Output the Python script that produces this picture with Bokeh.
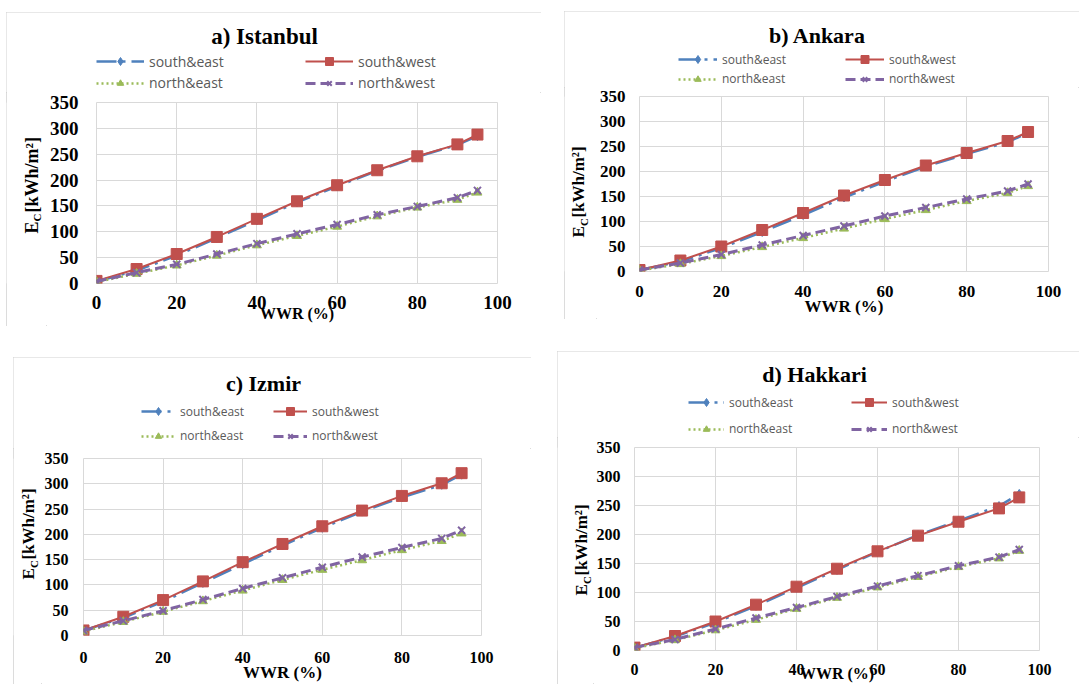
import math
from bokeh.plotting import figure
from bokeh.models import Range1d, FixedTicker, Legend, LegendItem, Label, Spacer
from bokeh.layouts import row, column
from bokeh.embed import file_html
from bokeh.resources import INLINE

# ---------------- data ----------------
wwr = [0, 10, 20, 30, 40, 50, 60, 70, 80, 90, 95]
series_names = ["south&east", "south&west", "north&east", "north&west"]
x_ticks = [0, 20, 40, 60, 80, 100]
y_ticks = [0, 50, 100, 150, 200, 250, 300, 350]
x_label = "WWR (%)"
y_label_parts = ["E", "C", "[kWh/m²]"]

istanbul_se = [4, 25, 54, 88, 122, 157, 188, 218, 245, 268, 285]
istanbul_sw = [5, 28, 57, 90, 125, 159, 190, 219, 246, 269, 288]
istanbul_ne = [3, 19, 35, 54, 74, 92, 110, 130, 147, 162, 176]
istanbul_nw = [4, 21, 37, 57, 77, 96, 114, 133, 149, 166, 180]

ankara_se = [3, 20, 47, 79, 113, 148, 180, 210, 235, 259, 277]
ankara_sw = [3, 22, 50, 83, 117, 152, 183, 212, 237, 261, 279]
ankara_ne = [2, 15, 31, 49, 67, 86, 105, 123, 141, 157, 171]
ankara_nw = [3, 17, 34, 53, 72, 91, 111, 128, 145, 161, 175]

izmir_se = [10, 35, 67, 104, 141, 178, 213, 245, 273, 298, 318]
izmir_sw = [10, 37, 70, 107, 145, 181, 216, 247, 276, 301, 321]
izmir_ne = [8, 27, 47, 68, 89, 110, 130, 149, 169, 187, 202]
izmir_nw = [10, 29, 49, 71, 93, 114, 135, 155, 174, 192, 208]

hakkari_se = [5, 24, 48, 77, 108, 139, 170, 199, 224, 249, 270]
hakkari_sw = [5, 25, 50, 79, 110, 141, 171, 198, 222, 245, 264]
hakkari_ne = [4, 18, 35, 53, 72, 91, 109, 127, 144, 159, 172]
hakkari_nw = [5, 19, 37, 56, 74, 93, 111, 129, 146, 161, 174]

titles = ["a) Istanbul", "b) Ankara", "c) Izmir", "d) Hakkari"]

# ---------------- styles ----------------
series_style = [
    dict(color="#4f81bd", width=2.5, dash="20 6 3 6", marker="diamond", msize=9),
    dict(color="#c0504d", width=2, dash="solid", marker="square", msize=11),
    dict(color="#9bbb59", width=2.5, dash="2 3", marker="triangle", msize=9),
    dict(color="#8064a2", width=3, dash="10 5", marker="x", msize=10),
]

SERIF = "Liberation Serif"
SANS = "Open Sans"
PANEL_BORDER = {"outline": "1px solid #d0d0d0", "outline-offset": "-1px"}

# size=(W,H) of the panel; borders=(left, top, right, bottom) of the plot frame in the panel
panel_cfg = [
    dict(size=(535, 314), borders=(90, 90, 44, 43), hh=80, wl=40,
         title_xy=(258, 56), title_fs=23, rows_y=(31, 8), leg_x=90,
         gw=48, sp=7, lw=149, leg_fs=14,
         tick_fs=19, ystand=12, xstand=6, xlab_fs=16, xlab_stand=-7,
         ylab_x=25, ylab_y=50, ylab_fs=18),
    dict(size=(515, 308), borders=(74, 85, 31, 48), hh=76, wl=32,
         title_xy=(253, 52), title_fs=22, rows_y=(28, 8), leg_x=114,
         gw=39, sp=6, lw=117, leg_fs=12,
         tick_fs=17, ystand=8, xstand=8, xlab_fs=17, xlab_stand=-3,
         ylab_x=14, ylab_y=34, ylab_fs=17),
    dict(size=(518, 327), borders=(69, 101, 50, 49), hh=91, wl=28,
         title_xy=(250, 65), title_fs=22, rows_y=(37, 12), leg_x=128,
         gw=34, sp=5, lw=88, leg_fs=12,
         tick_fs=16, ystand=9, xstand=10, xlab_fs=17, xlab_stand=-3,
         ylab_x=15, ylab_y=56, ylab_fs=17),
    dict(size=(522, 333), borders=(77, 96, 40, 34), hh=86, wl=36,
         title_xy=(257, 63), title_fs=22, rows_y=(35, 8), leg_x=131,
         gw=36, sp=7, lw=115, leg_fs=12,
         tick_fs=16, ystand=8, xstand=7, xlab_fs=16, xlab_stand=-13,
         ylab_x=24, ylab_y=55, ylab_fs=17),
]


def blank_figure(width, height):
    f = figure(width=width, height=height, x_range=Range1d(0, 1), y_range=Range1d(0, 1),
               x_axis_location=None, y_axis_location=None, min_border=0,
               output_backend="svg", toolbar_location=None, outline_line_color=None,
               background_fill_color="white", border_fill_color="white")
    f.grid.visible = False
    return f


def add_series(fig, xs, data_list):
    renderers = []
    for ys, st in zip(data_list, series_style):
        lr = fig.line(xs, ys, line_color=st["color"], line_width=st["width"], line_dash=st["dash"])
        if st["marker"] == "x":
            sr = fig.scatter(xs, ys, marker="x", size=st["msize"], line_color=st["color"],
                             line_width=2)
        else:
            sr = fig.scatter(xs, ys, marker=st["marker"], size=st["msize"],
                             fill_color=st["color"], line_color=st["color"])
        renderers.append([lr, sr])
    return renderers


def make_legend(items, cfg, vy, h):
    return Legend(items=items, location=(cfg["leg_x"], vy), orientation="horizontal",
                  border_line_color=None, background_fill_alpha=0, padding=0, margin=0,
                  spacing=cfg["sp"], glyph_width=cfg["gw"], glyph_height=h,
                  label_height=h, label_width=cfg["lw"], label_standoff=5,
                  label_text_font=SANS, label_text_font_size=f"{cfg['leg_fs']}px",
                  label_text_color="#595959")


def make_panel(title, data, cfg):
    W, H = cfg["size"]
    l, t, r, b = cfg["borders"]
    hh, wl = cfg["hh"], cfg["wl"]

    # ---- header: title and legend (its series lie outside its own 0..1 ranges) ----
    head = blank_figure(W, hh)
    legend_renderers = add_series(head, wwr, data)
    items = [LegendItem(label=n, renderers=rr) for n, rr in zip(series_names, legend_renderers)]
    y1, y2 = cfg["rows_y"]
    head.add_layout(make_legend(items[:2], cfg, y1 - 10, 20), "center")
    head.add_layout(make_legend(items[2:], cfg, y2 - 8, 16), "center")
    tx, ty = cfg["title_xy"]
    head.add_layout(Label(x=tx, y=ty, x_units="screen", y_units="screen", text=title,
                          text_font=SERIF, text_font_style="bold",
                          text_font_size=f"{cfg['title_fs']}px", text_align="center",
                          text_baseline="middle", text_color="black"))

    # ---- y axis title (frame aligned with the main plot frame) ----
    mh = H - hh
    ylab = blank_figure(wl, mh)
    fs = cfg["ylab_fs"]
    yx, yy = cfg["ylab_x"], cfg["ylab_y"]
    common = dict(x_units="screen", y_units="screen", angle=math.pi / 2, text_font=SERIF,
                  text_font_style="bold", text_align="left", text_baseline="middle",
                  text_color="black")
    ylab.add_layout(Label(x=yx, y=yy, text=y_label_parts[0], text_font_size=f"{fs}px", **common))
    ylab.add_layout(Label(x=yx + 5, y=yy + 0.67 * fs, text=y_label_parts[1],
                          text_font_size=f"{round(fs * 0.62)}px", **common))
    ylab.add_layout(Label(x=yx, y=yy + 1.17 * fs, text=y_label_parts[2],
                          text_font_size=f"{fs}px", **common))

    # ---- main plot ----
    p = figure(width=W - wl, height=mh, x_range=Range1d(0, 100), y_range=Range1d(0, 350),
               output_backend="svg", toolbar_location=None,
               min_border_left=l - wl, min_border_top=t - hh, min_border_right=r,
               min_border_bottom=b,
               background_fill_color="white", border_fill_color="white",
               outline_line_color="#d9d9d9", outline_line_width=1)
    for ax in (p.xaxis, p.yaxis):
        ax.axis_line_color = None
        ax.major_tick_line_color = None
        ax.minor_tick_line_color = None
        ax.major_label_text_font = SERIF
        ax.major_label_text_font_style = "bold"
        ax.major_label_text_font_size = f"{cfg['tick_fs']}px"
        ax.major_label_text_color = "black"
    p.xaxis.ticker = FixedTicker(ticks=x_ticks)
    p.yaxis.ticker = FixedTicker(ticks=y_ticks)
    p.xaxis.major_label_standoff = cfg["xstand"]
    p.yaxis.major_label_standoff = cfg["ystand"]
    p.xaxis.axis_label = x_label
    p.xaxis.axis_label_text_font = SERIF
    p.xaxis.axis_label_text_font_style = "bold"
    p.xaxis.axis_label_text_color = "black"
    p.xaxis.axis_label_text_font_size = f"{cfg['xlab_fs']}px"
    p.xaxis.axis_label_standoff = cfg["xlab_stand"]
    p.xgrid.ticker = FixedTicker(ticks=x_ticks)
    p.ygrid.ticker = FixedTicker(ticks=y_ticks)
    p.xgrid.grid_line_color = "#d9d9d9"
    p.ygrid.grid_line_color = "#d9d9d9"
    add_series(p, wwr, data)

    return column(head, row(ylab, p), styles=PANEL_BORDER)


pa = make_panel(titles[0], [istanbul_se, istanbul_sw, istanbul_ne, istanbul_nw], panel_cfg[0])
pb = make_panel(titles[1], [ankara_se, ankara_sw, ankara_ne, ankara_nw], panel_cfg[1])
pc = make_panel(titles[2], [izmir_se, izmir_sw, izmir_ne, izmir_nw], panel_cfg[2])
pd = make_panel(titles[3], [hakkari_se, hakkari_sw, hakkari_ne, hakkari_nw], panel_cfg[3])

top = row(
    Spacer(width=6, height=326),
    column(Spacer(width=535, height=12), pa),
    Spacer(width=23, height=326),
    column(Spacer(width=515, height=11), pb, Spacer(width=515, height=7)),
)
bottom = row(
    Spacer(width=13, height=358),
    column(Spacer(width=518, height=31), pc),
    Spacer(width=26, height=358),
    column(Spacer(width=522, height=25), pd),
)
layout = column(top, bottom)

open("out.html", "w").write(file_html(layout, INLINE))
